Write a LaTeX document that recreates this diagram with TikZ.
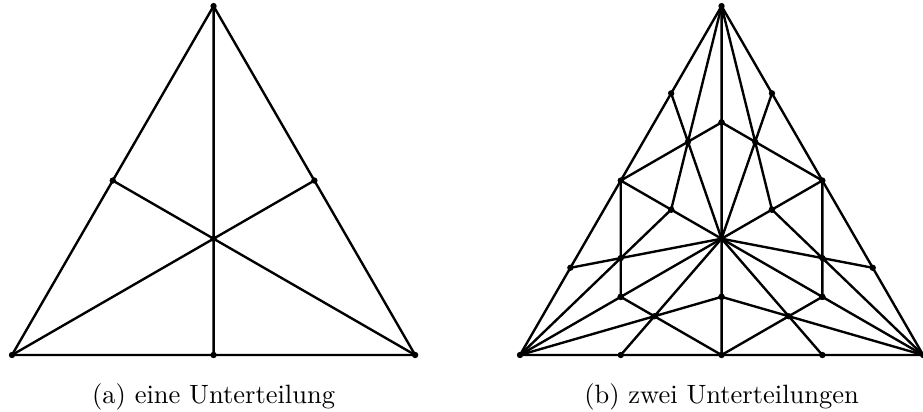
\documentclass[tikz,border=0pt]{standalone}
\usetikzlibrary{calc}

\tikzset{
  edge/.style={line width=0.9pt, line join=round},
}

\begin{document}
\begin{tikzpicture}
  \useasboundingbox (-0.159,-0.756) rectangle (12.089,4.711);

  % (a) one subdivision
  \coordinate (A) at (0,0);
  \coordinate (B) at (5.35,0);
  \coordinate (C) at (2.675,4.63);
  \coordinate (Mab) at ($(A)!0.5!(B)$);
  \coordinate (Mbc) at ($(B)!0.5!(C)$);
  \coordinate (Mca) at ($(C)!0.5!(A)$);
  \coordinate (G) at (barycentric cs:A=1,B=1,C=1);

  \draw[edge] (A) -- (B) -- (C) -- cycle;
  \draw[edge] (A) -- (Mbc) (B) -- (Mca) (C) -- (Mab);
  \foreach \p in {A,B,C,Mab,Mbc,Mca,G}
    \fill (\p) circle (1.2pt);

  \node[anchor=base] (capA) at (2.675,-0.637) {(a) eine Unterteilung};

  % (b) two subdivisions
  \coordinate (P) at (6.741,0);
  \coordinate (Q) at (12.091,0);
  \coordinate (R) at (9.416,4.63);
  \coordinate (Mpq) at ($(P)!0.5!(Q)$);
  \coordinate (Mqr) at ($(Q)!0.5!(R)$);
  \coordinate (Mrp) at ($(R)!0.5!(P)$);
  \coordinate (H) at (barycentric cs:P=1,Q=1,R=1);

  \draw[edge] (P) -- (Q) -- (R) -- cycle;
  \draw[edge] (P) -- (Mqr) (Q) -- (Mrp) (R) -- (Mpq);
  \foreach \u/\v/\w in {P/Mpq/H, Mpq/Q/H, Q/Mqr/H, Mqr/R/H, R/Mrp/H, Mrp/P/H} {
    \coordinate (\u-\v) at ($(\u)!0.5!(\v)$);
    \coordinate (\v-\w) at ($(\v)!0.5!(\w)$);
    \coordinate (\w-\u) at ($(\w)!0.5!(\u)$);
    \coordinate (S\u\v) at (barycentric cs:\u=1,\v=1,\w=1);
    \draw[edge] (\u) -- (\v-\w) (\v) -- (\w-\u) (\w) -- (\u-\v);
  }
  \foreach \u/\v/\w in {P/Mpq/H, Mpq/Q/H, Q/Mqr/H, Mqr/R/H, R/Mrp/H, Mrp/P/H}
    \foreach \p in {\u,\v-\w,\w-\u,\u-\v,S\u\v}
      \fill (\p) circle (1.2pt);

  \node[anchor=base] (capB) at (9.416,-0.637) {(b) zwei Unterteilungen};
\end{tikzpicture}
\end{document}
